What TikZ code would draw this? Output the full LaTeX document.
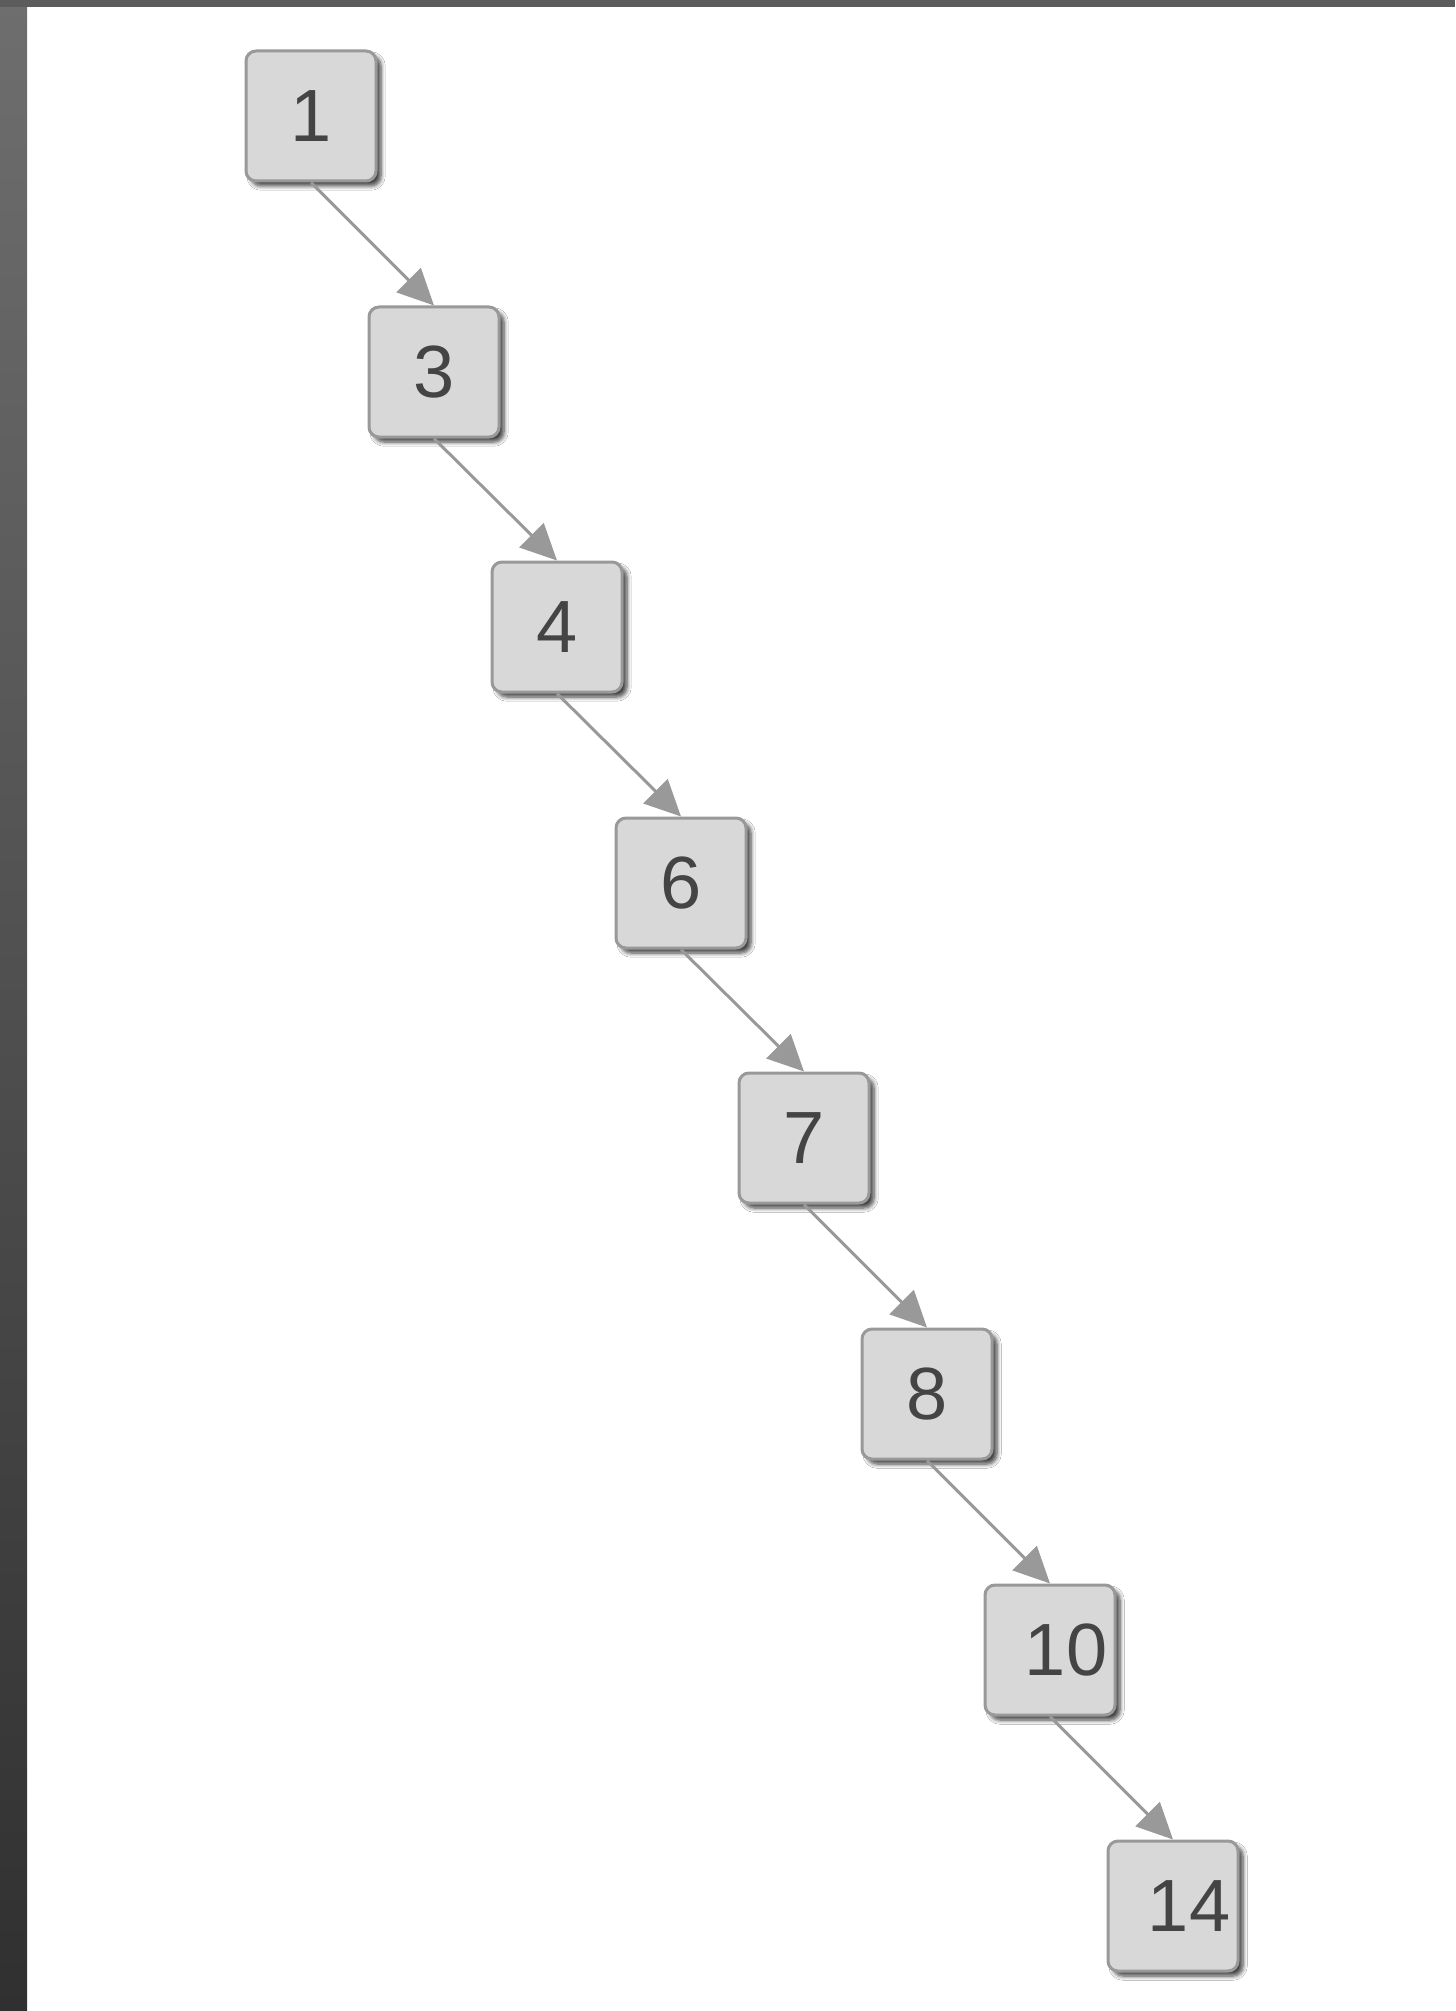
\documentclass[tikz,border=0pt]{standalone}
\usepackage{fontspec}
\setmainfont{Liberation Sans}
\usetikzlibrary{arrows.meta,shadows.blur}
\definecolor{boxfill}{HTML}{D8D8D8}
\definecolor{boxline}{HTML}{999999}
\definecolor{txt}{HTML}{444444}
\definecolor{arr}{HTML}{999999}
\definecolor{stripTop}{HTML}{6E6E6E}
\definecolor{stripBot}{HTML}{303030}
\definecolor{topstrip}{HTML}{5C5C5C}
\tikzset{
  keybox/.style={draw=boxline, fill=boxfill, line width=1.5pt, rounded corners=5pt,
    minimum width=65pt, minimum height=65pt, inner sep=0pt, text=txt,
    font=\fontsize{37}{37}\selectfont,
    blur shadow={shadow xshift=2.5pt, shadow yshift=-2.5pt, shadow blur steps=6,
      shadow blur extra rounding=1pt, shadow opacity=75}},
  wide/.style={execute at begin node={\hspace*{16pt}}},
  link/.style={draw=arr, line width=1.5pt, -{Triangle[length=18pt,width=17pt]}}
}
\begin{document}
\begin{tikzpicture}[x=0.5pt,y=-0.5pt]
\useasboundingbox (0,0) rectangle (1455,2011);
\fill[white] (0,0) rectangle (1455,2011);
\shade[top color=stripTop, bottom color=stripBot] (0,0) rectangle (27,2011);
\fill[topstrip] (0,0) rectangle (1455,7);
\node[keybox] (n1) at (311,116) {1};
\node[keybox] (n3) at (434,372) {3};
\node[keybox] (n4) at (557,627) {4};
\node[keybox] (n6) at (681,883) {6};
\node[keybox] (n7) at (804,1138) {7};
\node[keybox] (n8) at (927,1394) {8};
\node[keybox,wide] (n10) at (1050,1650) {10};
\node[keybox,wide] (n14) at (1173,1906) {14};
\draw[link] (n1.south) -- (n3.north);
\draw[link] (n3.south) -- (n4.north);
\draw[link] (n4.south) -- (n6.north);
\draw[link] (n6.south) -- (n7.north);
\draw[link] (n7.south) -- (n8.north);
\draw[link] (n8.south) -- (n10.north);
\draw[link] (n10.south) -- (n14.north);
\end{tikzpicture}
\end{document}
